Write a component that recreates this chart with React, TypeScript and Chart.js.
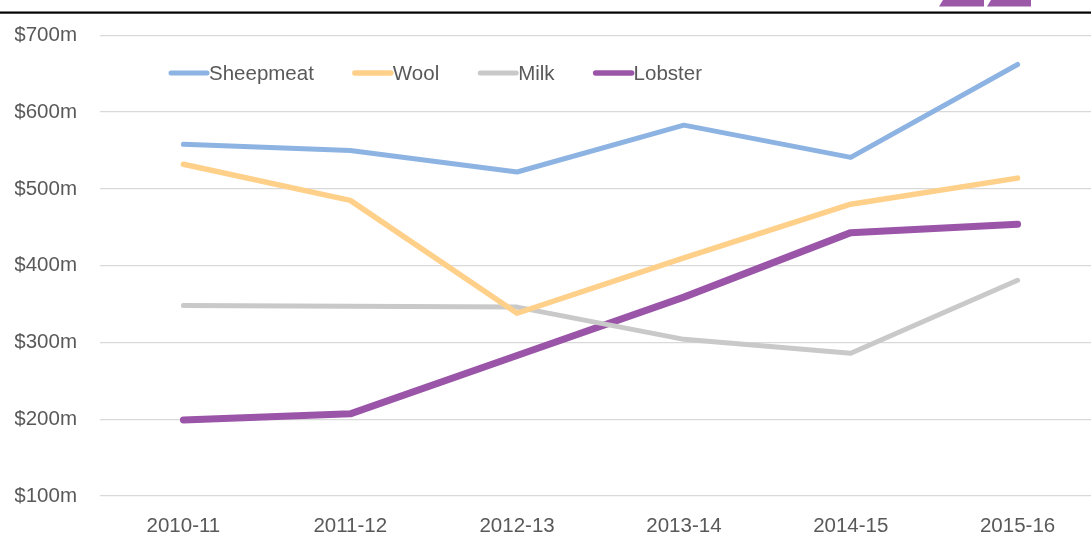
import React, { useEffect, useRef } from "react";
import { Chart, registerables } from "chart.js";

Chart.register(...registerables);

const categories = ["2010-11", "2011-12", "2012-13", "2013-14", "2014-15", "2015-16"];
const sheepmeat = [558, 550, 522, 583, 541, 662];
const wool = [532, 485, 338, 410, 480, 514];
const milk = [348, 347, 346, 304, 286, 381];
const lobster = [199, 207, 283, 359, 443, 454];
const yTicks = [100, 200, 300, 400, 500, 600, 700];

const seriesNames = ["Sheepmeat", "Wool", "Milk", "Lobster"];
const seriesColors = ["#8DB3E2", "#FFD08A", "#C9C9C9", "#9A55A8"];
const seriesWidths = [5, 5.5, 5, 7];

const FONT = "'Liberation Sans', Arial, sans-serif";
const FSIZE = 20.5;

const decorPlugin = {
  id: "decor",
  beforeDraw(chart: any) {
    const ctx = chart.ctx;
    ctx.save();
    ctx.fillStyle = "#ffffff";
    ctx.fillRect(0, 0, chart.width, chart.height);
    ctx.fillStyle = "#000000";
    ctx.fillRect(0, 11.5, chart.width, 2.2);
    ctx.fillStyle = "#9B59A8";
    ctx.beginPath();
    ctx.moveTo(943, 0);
    ctx.lineTo(984, 0);
    ctx.lineTo(984, 6.5);
    ctx.lineTo(939, 6.5);
    ctx.closePath();
    ctx.fill();
    ctx.beginPath();
    ctx.moveTo(991, 0);
    ctx.lineTo(1031, 0);
    ctx.lineTo(1031, 6.5);
    ctx.lineTo(987, 6.5);
    ctx.closePath();
    ctx.fill();
    ctx.restore();
  },
  afterDraw(chart: any) {
    const ctx = chart.ctx;
    ctx.save();
    ctx.font = FSIZE + "px " + FONT;
    ctx.textBaseline = "middle";
    ctx.lineCap = "round";
    let x = 171;
    const y = 73;
    chart.data.datasets.forEach((ds: any) => {
      ctx.strokeStyle = ds.borderColor;
      ctx.lineWidth = Math.min(ds.borderWidth, 5.5);
      ctx.beginPath();
      ctx.moveTo(x, y);
      ctx.lineTo(x + 36, y);
      ctx.stroke();
      ctx.fillStyle = "#595959";
      ctx.textAlign = "left";
      ctx.fillText(ds.label, x + 38, y + 1);
      const w = ctx.measureText(ds.label).width;
      x = x + 38 + w + 41;
    });
    ctx.restore();
  },
};

export default function App() {
  const ref = useRef<HTMLCanvasElement>(null);
  useEffect(() => {
    document.body.style.margin = "0";
    const canvas = ref.current!;
    const chart = new Chart(canvas, {
      type: "line",
      data: {
        labels: categories,
        datasets: [sheepmeat, wool, milk, lobster].map((d, i) => ({
          label: seriesNames[i],
          data: d,
          borderColor: seriesColors[i],
          backgroundColor: seriesColors[i],
          borderWidth: seriesWidths[i],
          pointRadius: 0,
          tension: 0,
          borderCapStyle: "round" as const,
          borderJoinStyle: "round" as const,
          fill: false,
        })),
      },
      options: {
        responsive: false,
        animation: false,
        layout: { padding: { left: 15, right: 0, top: 35, bottom: 0 } },
        plugins: {
          legend: { display: false },
          tooltip: { enabled: false },
        },
        scales: {
          x: {
            offset: true,
            grid: { display: false, drawTicks: false },
            border: { display: false },
            afterFit: (axis: any) => {
              axis.height = 41;
            },
            ticks: {
              color: "#595959",
              font: { family: FONT, size: FSIZE },
              padding: 18,
              maxRotation: 0,
            },
          },
          y: {
            min: 100,
            max: 700,
            afterBuildTicks: (axis: any) => {
              axis.ticks = yTicks.map((v) => ({ value: v }));
            },
            afterFit: (axis: any) => {
              axis.width = 85;
            },
            grid: { color: "#D9D9D9", lineWidth: 1.3, drawTicks: false },
            border: { display: false },
            ticks: {
              color: "#595959",
              font: { family: FONT, size: FSIZE },
              padding: 23,
              callback: (v: any) => "$" + v + "m",
            },
          },
        },
      },
      plugins: [decorPlugin],
    });
    return () => chart.destroy();
  }, []);
  return (
    <div style={{ position: "fixed", left: 0, top: 0, width: 1091, height: 537, overflow: "hidden", background: "#fff" }}>
      <canvas ref={ref} width={1101} height={537} style={{ display: "block" }} />
    </div>
  );
}
